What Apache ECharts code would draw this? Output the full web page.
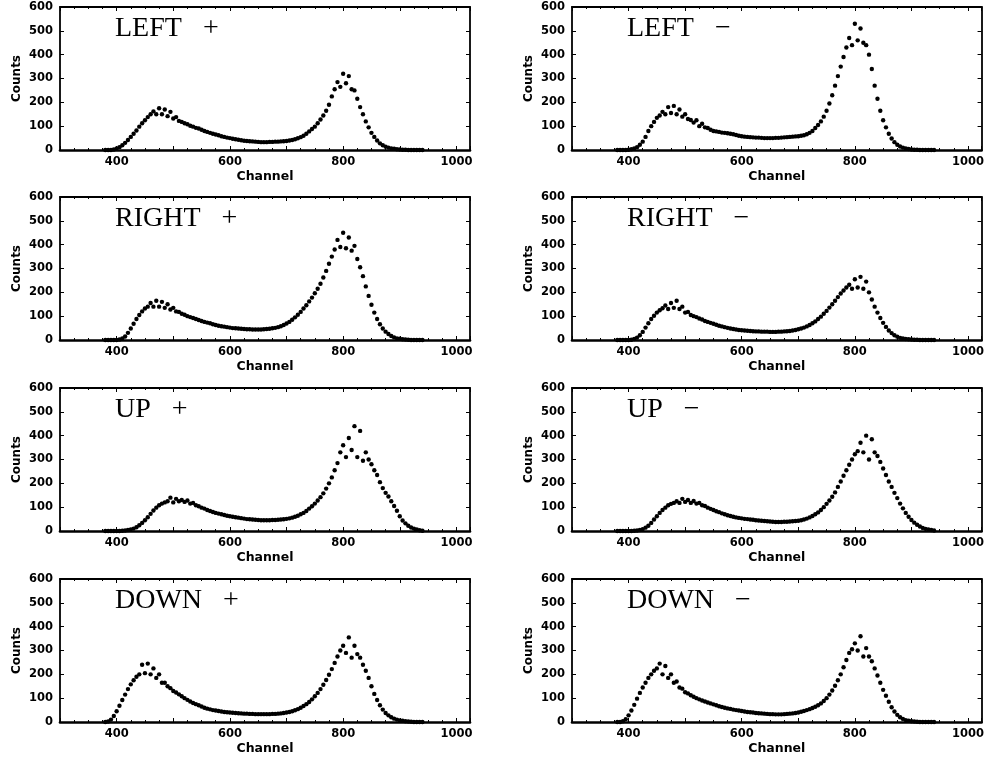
<!DOCTYPE html>
<html>
<head>
<meta charset="utf-8">
<script src="https://cdn.jsdelivr.net/npm/echarts@6/dist/echarts.min.js"></script>
<style>html,body{margin:0;padding:0;background:#fff;}#c{width:987px;height:759px;}</style>
</head>
<body>
<div id="c"></div>
<script>
// Channel grid of the spectra: first channel and step between stored points
const channelStart = 380;
const channelStep = 5;

const xTickLabels = [400, 600, 800, 1000];
const yTicks = [0, 100, 200, 300, 400, 500, 600];

const panelTitles = ['LEFT   +', 'LEFT   \u2212', 'RIGHT   +', 'RIGHT   \u2212', 'UP   +', 'UP   \u2212', 'DOWN   +', 'DOWN   \u2212'];

// Counts, channels 380..940 step 5 (10 values per row = 50 channels)
const leftPlus = [
  0,0,0,2,6,12,20,30,42,55,
  68,82,98,112,125,138,150,162,150,175,
  150,170,142,160,132,138,122,118,112,108,
  102,98,93,90,85,80,76,72,68,65,
  62,58,55,52,50,47,45,43,41,39,
  38,37,36,35,34,33,33,33,34,34,
  35,35,36,37,38,40,42,45,49,54,
  60,68,78,88,98,112,128,145,165,190,
  225,255,285,265,320,280,310,255,250,215,
  180,150,120,95,72,55,40,28,20,14,
  10,7,5,3,2,1,1,0,0,0,
  0,0,0
];
const leftMinus = [
  0,0,0,0,1,3,7,12,22,35,
  55,80,100,118,135,145,160,150,180,155,
  185,150,170,140,150,130,126,115,125,100,
  110,95,92,85,80,78,76,73,72,70,
  68,66,63,60,58,56,55,54,53,52,
  52,51,50,50,50,50,51,51,52,53,
  54,55,56,57,58,60,62,66,72,80,
  92,105,120,140,165,195,230,270,310,350,
  390,430,470,440,530,460,510,450,440,400,
  340,270,215,165,125,95,68,48,33,22,
  15,10,6,4,2,1,1,0,0,0,
  0,0,0
];
const rightPlus = [
  0,0,0,0,0,2,6,15,30,48,
  68,88,105,120,132,140,155,140,165,140,
  160,135,150,128,135,120,118,110,106,100,
  96,92,88,84,80,76,73,70,66,63,
  60,58,56,54,52,50,49,48,47,46,
  45,45,44,44,44,44,45,46,47,49,
  51,54,58,63,69,76,85,95,106,118,
  132,146,162,178,196,215,236,262,290,320,
  350,380,420,390,450,385,430,375,395,340,
  305,268,225,185,148,115,88,66,48,35,
  25,17,11,7,5,3,2,1,0,0,
  0,0,0
];
const rightMinus = [
  0,0,0,0,0,1,4,10,20,34,
  52,70,88,102,115,125,133,145,130,155,
  135,165,130,140,115,118,105,100,96,90,
  86,80,76,72,68,64,60,57,54,51,
  48,46,44,42,41,40,39,38,37,36,
  36,35,35,35,34,34,34,35,35,36,
  37,38,40,42,45,48,52,57,63,70,
  78,88,98,110,122,136,150,165,180,195,
  208,220,232,215,255,220,265,215,245,200,
  170,140,115,92,72,55,40,29,20,14,
  9,6,4,3,2,1,1,0,0,0,
  0,0,0
];
const upPlus = [
  0,0,0,0,0,0,1,2,4,7,
  10,16,24,34,45,58,72,86,98,108,
  115,120,125,140,120,135,125,130,122,128,
  115,118,108,104,98,94,88,84,80,76,
  73,70,67,64,62,60,58,56,54,52,
  50,49,48,47,46,45,45,45,45,46,
  46,47,48,49,51,53,56,60,64,70,
  76,84,94,104,115,128,142,158,178,200,
  225,255,285,330,360,310,390,340,440,310,
  420,295,330,300,280,255,235,205,180,160,
  145,125,105,85,62,44,32,22,15,10,
  6,3,1
];
const upMinus = [
  0,0,0,0,0,0,1,2,4,8,
  14,22,34,48,62,76,88,98,108,114,
  118,125,118,135,122,130,118,126,115,118,
  108,105,98,93,88,83,79,74,70,66,
  63,60,57,55,53,51,50,48,47,45,
  44,43,42,41,40,39,38,38,38,39,
  39,40,41,42,43,45,48,52,57,63,
  70,78,88,100,114,128,144,162,185,208,
  232,255,278,300,322,335,370,330,400,300,
  385,330,315,290,262,235,208,185,160,138,
  115,95,76,60,46,35,26,19,13,9,
  6,4,2
];
const downPlus = [
  0,2,10,25,45,68,92,115,138,158,
  175,190,200,240,205,245,200,225,185,200,
  165,165,150,142,130,124,116,108,100,93,
  86,80,75,70,65,60,56,53,50,48,
  46,44,42,41,40,39,38,37,36,35,
  35,34,34,33,33,33,33,33,33,34,
  34,35,36,38,40,42,45,49,54,60,
  67,75,84,95,108,122,138,156,176,198,
  222,248,275,300,320,290,355,270,320,285,
  270,240,215,185,150,118,92,70,52,38,
  28,20,14,10,7,5,3,2,1,0,
  0,0,0
];
const downMinus = [
  0,0,3,12,28,48,72,98,122,145,
  165,185,200,215,225,245,200,235,185,200,
  165,170,145,140,125,120,112,106,100,95,
  90,86,82,78,74,70,66,63,60,57,
  55,52,50,48,46,44,42,41,40,38,
  37,36,35,34,33,33,32,32,32,33,
  34,35,36,38,40,43,46,50,54,59,
  64,70,78,88,100,115,132,152,175,200,
  230,260,290,305,330,300,360,275,310,275,
  255,225,195,165,135,110,85,62,44,30,
  20,13,8,5,3,2,1,0,0,0,
  0,0,0
];

const panelData = [leftPlus, leftMinus, rightPlus, rightMinus, upPlus, upMinus, downPlus, downMinus];

// ---------- layout ----------
const colLeft = [60, 572];
const colWidth = [410, 411];
const rowTop = [7, 197, 388, 579];
const gridHeight = 143;

const labelFont = 'DejaVu Sans, Verdana, sans-serif';
const grids = [], xAxes = [], yAxes = [], series = [], titles = [];

panelData.forEach((vals, k) => {
  const r = Math.floor(k / 2), c = k % 2;
  grids.push({ left: colLeft[c], top: rowTop[r], width: colWidth[c], height: gridHeight, containLabel: false });
  const frameLine = { show: true, onZero: false, lineStyle: { color: '#000', width: 1.8 } };
  const baseLine = { show: true, onZero: false, lineStyle: { color: '#000', width: 2.6 } };
  const tick = { show: true, inside: true, length: 4, lineStyle: { color: '#000', width: 1 } };
  const minor = { show: true, splitNumber: 4, length: 2, lineStyle: { color: '#000', width: 1 } };
  // bottom x
  xAxes.push({
    gridIndex: k, type: 'value', position: 'bottom', min: 300, max: 1024, interval: 100,
    axisLine: baseLine, axisTick: tick, minorTick: minor, splitLine: { show: false },
    axisLabel: { color: '#000', fontFamily: labelFont, fontWeight: 'bold', fontSize: 11.5, margin: 6,
      showMaxLabel: false,
      formatter: v => xTickLabels.includes(v) ? String(v) : '' },
    name: 'Channel', nameLocation: 'middle', nameGap: 20,
    nameTextStyle: { color: '#000', fontFamily: labelFont, fontWeight: 'bold', fontSize: 12.5 }
  });
  // top x (frame)
  xAxes.push({
    gridIndex: k, type: 'value', position: 'top', min: 300, max: 1024, interval: 100,
    axisLine: frameLine, axisTick: tick, minorTick: minor, splitLine: { show: false }, axisLabel: { show: false }
  });
  // left y
  yAxes.push({
    gridIndex: k, type: 'value', position: 'left', min: 0, max: 600, interval: 100,
    axisLine: frameLine, axisTick: tick, splitLine: { show: false },
    axisLabel: { color: '#000', fontFamily: labelFont, fontWeight: 'bold', fontSize: 11.5, margin: 7,
      formatter: v => yTicks.includes(v) ? String(v) : '' },
    name: 'Counts', nameLocation: 'middle', nameGap: 37,
    nameTextStyle: { color: '#000', fontFamily: labelFont, fontWeight: 'bold', fontSize: 12 }
  });
  // right y (frame)
  yAxes.push({
    gridIndex: k, type: 'value', position: 'right', min: 0, max: 600, interval: 100,
    axisLine: frameLine, axisTick: tick, splitLine: { show: false }, axisLabel: { show: false }
  });
  series.push({
    type: 'scatter', xAxisIndex: 2 * k, yAxisIndex: 2 * k,
    symbol: 'circle', symbolSize: 4.4, silent: true,
    itemStyle: { color: '#000', opacity: 1 },
    data: vals.map((v, i) => [channelStart + channelStep * i, v])
  });
  titles.push({
    text: panelTitles[k], left: colLeft[c] + 50, top: rowTop[r] + 3,
    textStyle: { fontFamily: 'Liberation Serif, Times New Roman, serif', fontWeight: 'normal', fontSize: 28, color: '#000' }
  });
});

const chart = echarts.init(document.getElementById('c'), null, { renderer: 'canvas' });
chart.setOption({
  animation: false,
  backgroundColor: '#fff',
  title: titles,
  grid: grids,
  xAxis: xAxes,
  yAxis: yAxes,
  series: series
});
</script>
</body>
</html>
